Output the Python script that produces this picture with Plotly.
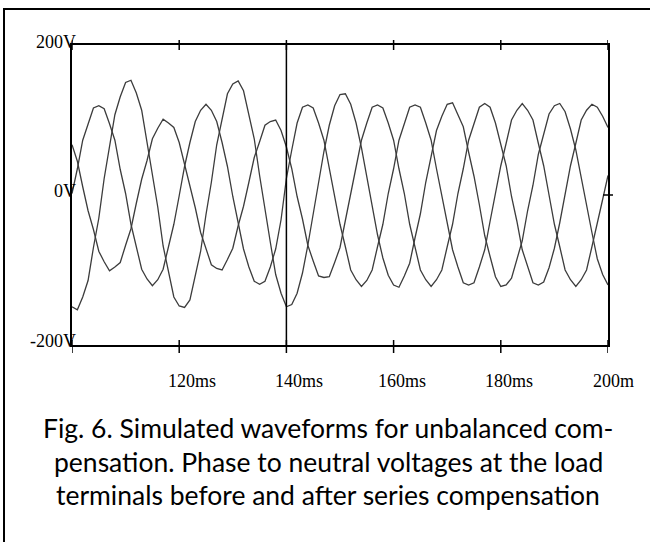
import plotly.graph_objects as go

# Sampling grid (ms)
TIME_MS = list(range(100, 201))

# Phase voltages (V) at 1 ms steps, t = 100 .. 200 ms
PHASE_A = [
    -149, -153, -136, -114, -70, -31, 22, 62, 107, 131, 150, 153, 136, 113, 70, 31, -16, -68, -101, -136,
    -148, -150, -140, -109, -75, -26, 17, 67, 102, 135, 148, 152, 139, 109, 75, 26, -21, -63, -106, -131,
    -149, -146, -131, -104, -67, -26, 17, 58, 93, 119, 134, 135, 121, 96, 63, 24, -16, -53, -84, -107,
    -120, -123, -108, -91, -57, -25, 17, 50, 86, 105, 121, 123, 108, 91, 57, 25, -13, -54, -82, -109,
    -122, -120, -111, -87, -61, -21, 13, 54, 83, 108, 119, 122, 111, 88, 60, 22, -16, -50, -85, -106,
    -120,
]
PHASE_B = [
    2, 35, 73, 95, 116, 119, 115, 95, 73, 34, 2, -39, -69, -99, -112, -121, -113, -99, -69, -39,
    -1, 38, 70, 98, 113, 121, 113, 98, 70, 38, -2, -35, -72, -96, -115, -119, -115, -96, -72, -33,
    22, 60, 96, 117, 120, 116, 96, 73, 35, 2, -39, -69, -100, -113, -122, -114, -100, -69, -39, 2,
    35, 73, 96, 117, 120, 117, 96, 73, 35, -2, -35, -73, -96, -117, -120, -117, -96, -73, -35, 2,
    39, 69, 100, 113, 122, 113, 100, 69, 39, 0, -39, -69, -100, -113, -122, -113, -100, -69, -39, -6,
    26,
]
PHASE_C = [
    67, 45, 11, -21, -46, -75, -89, -101, -96, -90, -67, -45, -11, 21, 46, 75, 89, 101, 96, 90,
    70, 41, 15, -17, -50, -71, -93, -98, -100, -86, -71, -41, -15, 17, 50, 71, 93, 98, 100, 86,
    64, 35, -2, -32, -67, -88, -108, -110, -109, -90, -70, -34, 2, 35, 73, 96, 117, 120, 116, 96,
    73, 35, 2, -39, -69, -100, -113, -122, -113, -100, -69, -39, 2, 35, 73, 96, 117, 122, 117, 96,
    69, 39, -2, -35, -73, -96, -117, -120, -116, -97, -71, -37, 0, 39, 69, 100, 113, 121, 117, 105,
    90,
]

X_TICKS = [100, 120, 140, 160, 180, 200]
X_TICK_LABELS = ["120ms", "140ms", "160ms", "180ms", "200m"]
Y_TICK_LABELS = ["200V", "0V", "-200V"]
CAPTION = [
    "Fig. 6. Simulated waveforms for unbalanced com-",
    "pensation. Phase to neutral voltages at the load",
    "terminals before and after series compensation",
]

W, H = 650, 542
PW, PH = 536, 300
L, T = 72, 45
R, B = W - L - PW, H - T - PH

def px_x(px):
    return (px - L) / PW

def px_y(py):
    return (T + PH - py) / PH

LINE_COL = "#3c3c3c"
fig = go.Figure()
for ys in (PHASE_A, PHASE_B, PHASE_C):
    fig.add_trace(go.Scatter(x=TIME_MS, y=ys, mode="lines",
                             line=dict(color=LINE_COL, width=1.3),
                             showlegend=False, hoverinfo="skip"))

shapes = []
shapes.append(dict(type="line", xref="x", yref="paper", x0=140, x1=140,
                   y0=0, y1=1, line=dict(color="black", width=1.5)))
for xt in X_TICKS:
    shapes.append(dict(type="line", xref="x", yref="paper", x0=xt, x1=xt,
                       y0=1 - 5 / PH, y1=1 + 5 / PH, line=dict(color="black", width=1.5)))
    shapes.append(dict(type="line", xref="x", yref="paper", x0=xt, x1=xt,
                       y0=-8 / PH, y1=5 / PH, line=dict(color="black", width=1.5)))
shapes.append(dict(type="line", xref="paper", yref="y", x0=1 - 5 / PW, x1=1 + 5 / PW,
                   y0=0, y1=0, line=dict(color="black", width=1.5)))
# outer frame: only its left and top sides fall inside the picture
shapes.append(dict(type="rect", xref="paper", yref="paper",
                   x0=px_x(4), x1=px_x(662), y0=px_y(556), y1=px_y(9),
                   line=dict(color="black", width=2), fillcolor="rgba(0,0,0,0)"))

annotations = []
serif = dict(family="Liberation Serif, Times New Roman, serif", size=18, color="black")
label_left_px = [165.7, 273, 375.7, 483, 590.7]
for lab, lx in zip(X_TICK_LABELS, label_left_px):
    annotations.append(dict(text=lab, xref="paper", yref="paper", x=px_x(lx), y=px_y(381),
                            xanchor="left", yanchor="middle", showarrow=False, font=serif))
y_label_center_px = [42, 191, 341]
for lab, py in zip(Y_TICK_LABELS, y_label_center_px):
    annotations.append(dict(text=lab, xref="paper", yref="paper", x=px_x(78), y=px_y(py),
                            xanchor="right", yanchor="middle", showarrow=False, font=serif))
cap_font = dict(family="Lato, Open Sans, sans-serif", size=26.5, color="black")
for line_txt, py in zip(CAPTION, [428, 462, 495]):
    annotations.append(dict(text=line_txt, xref="paper", yref="paper", x=px_x(328), y=px_y(py),
                            xanchor="center", yanchor="middle", showarrow=False, font=cap_font))

fig.update_layout(
    width=W, height=H,
    margin=dict(l=L, r=R, t=T, b=B, pad=0),
    paper_bgcolor="white", plot_bgcolor="white",
    xaxis=dict(range=[100, 200], showgrid=False, zeroline=False, showticklabels=False,
               ticks="", showline=True, mirror=True, linecolor="black", linewidth=1.5,
               fixedrange=True),
    yaxis=dict(range=[-200, 200], showgrid=False, zeroline=False, showticklabels=False,
               ticks="", showline=True, mirror=True, linecolor="black", linewidth=1.5,
               fixedrange=True),
    shapes=shapes,
    annotations=annotations,
)

fig.write_html("out.html", config={"displayModeBar": False},
               post_script="document.body.style.margin='0';document.body.style.overflow='hidden';")
